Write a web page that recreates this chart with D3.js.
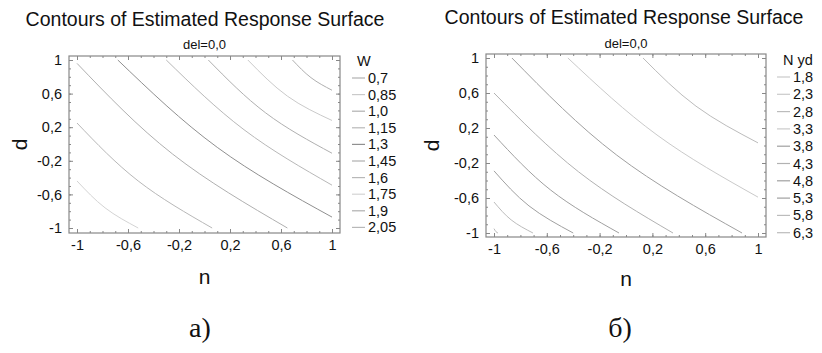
<!DOCTYPE html>
<html>
<head>
<meta charset="utf-8">
<script src="https://cdn.jsdelivr.net/npm/d3@7"></script>
<style>
  body { margin: 0; background: #fff; }
  svg { display: block; }
</style>
</head>
<body>
<svg width="822" height="353"></svg>
<script>
// axis ticks shared by both panels
const majorTicks = [-1, -0.6, -0.2, 0.2, 0.6, 1];
const minorTicks = d3.range(-10, 11).map(i => i / 10);

// panel a) : W
const wLevels = ["0,7", "0,85", "1,0", "1,15", "1,3", "1,45", "1,6", "1,75", "1,9", "2,05"];
// contour lines, [n, d] points, with the legend level index
const wCurveLevels = [7, 6, 5, 4, 3, 2, 1, 0];
const wCurves = [
  [[-1, -0.44], [-0.78, -0.76], [-0.52, -1]],
  [[-1, 0.25], [-0.52, -0.44], [0.06, -1]],
  [[-1, 0.96], [-0.25, -0.12], [0.65, -1]],
  [[-0.68, 1], [0.10, -0.04], [1, -0.87]],
  [[-0.30, 1], [0.31, 0.17], [1, -0.49]],
  [[0.03, 1], [0.48, 0.37], [1, -0.11]],
  [[0.34, 1], [0.65, 0.57], [1, 0.28]],
  [[0.69, 1], [0.835, 0.79], [1, 0.64]]
];

// panel б) : N yd
const nLevels = ["1,8", "2,3", "2,8", "3,3", "3,8", "4,3", "4,8", "5,3", "5,8", "6,3"];
const nCurveLevels = [9, 8, 7, 6, 5, 4, 3, 2];
const nCurves = [
  [[-1, -0.95], [-0.985, -0.985], [-0.97, -1]],
  [[-1, -0.646], [-0.87, -0.85], [-0.705, -1]],
  [[-1, -0.29], [-0.735, -0.69], [-0.40, -1]],
  [[-1, 0.12], [-0.57, -0.51], [-0.053, -1]],
  [[-1, 0.60], [-0.36, -0.30], [0.356, -1]],
  [[-0.864, 1], [-0.07, -0.11], [0.879, -1]],
  [[-0.44, 1], [0.235, 0.12], [1, -0.59]],
  [[0.129, 1], [0.53, 0.45], [1, 0.03]]
];

// line greys (style, kept apart from the data)
const wGreys = ["#b0b0b0", "#cacaca", "#b0b0b0", "#b8b8b8", "#909090", "#b0b0b0", "#b8b8b8", "#d4d4d4", "#b0b0b0", "#b8b8b8"];
const nGreys = ["#cacaca", "#cacaca", "#bcbcbc", "#cacaca", "#a0a0a0", "#b2b2b2", "#a0a0a0", "#a0a0a0", "#bcbcbc", "#bcbcbc"];

const svg = d3.select("svg");
const fmt = v => String(v).replace(".", ",");
const font = "'Liberation Sans', Arial, sans-serif";

function panel(cfg, curves, curveLevels, levels, greys, legendTitle) {
  const x = d3.scaleLinear().domain([-1, 1]).range([cfg.x0, cfg.x1]);
  const y = d3.scaleLinear().domain([-1, 1]).range([cfg.y0, cfg.y1]);
  const left = cfg.x0 - cfg.padX, right = cfg.x1 + cfg.padX;
  const top = cfg.y1 - cfg.padT, bottom = cfg.y0 + cfg.padB;

  const g = svg.append("g").attr("font-family", font);

  g.append("text")
    .attr("x", cfg.titleX).attr("y", cfg.titleY)
    .attr("text-anchor", "middle").attr("font-size", 19.5).attr("fill", "#111")
    .text("Contours of Estimated Response Surface");
  g.append("text")
    .attr("x", (left + right) / 2).attr("y", cfg.subY)
    .attr("text-anchor", "middle").attr("font-size", 13).attr("fill", "#111")
    .text("del=0,0");

  // contours
  const line = d3.line().x(d => x(d[0])).y(d => y(d[1])).curve(d3.curveNatural);
  g.append("g")
    .attr("fill", "none").attr("stroke-width", 1)
    .selectAll("path")
    .data(curves)
    .join("path")
      .attr("stroke", (d, i) => greys[curveLevels[i]])
      .attr("d", line);

  // frame with inward ticks on every side
  const axes = [
    [d3.axisBottom(x), `translate(0,${bottom})`, true],
    [d3.axisTop(x), `translate(0,${top})`, false],
    [d3.axisLeft(y), `translate(${left},0)`, true],
    [d3.axisRight(y), `translate(${right},0)`, false]
  ];
  axes.forEach(([ax, tr, labelled]) => {
    const minor = g.append("g").attr("transform", tr)
      .call(ax.tickValues(minorTicks).tickSize(-2).tickFormat(""));
    minor.select(".domain").remove();
    minor.selectAll("line").attr("stroke", "#888");
    const major = g.append("g").attr("transform", tr)
      .call(ax.tickValues(majorTicks).tickSize(-4).tickPadding(labelled ? 7 : 0)
        .tickFormat(labelled ? fmt : ""));
    major.select(".domain").remove();
    major.selectAll("line").attr("stroke", "#888");
    major.selectAll("text").attr("font-size", 14.5).attr("fill", "#111").attr("font-family", font);
  });
  g.append("rect")
    .attr("x", left).attr("y", top)
    .attr("width", right - left).attr("height", bottom - top)
    .attr("fill", "none").attr("stroke", "#888").attr("stroke-width", 1.2);

  // axis titles
  g.append("text")
    .attr("x", (left + right) / 2).attr("y", cfg.nY)
    .attr("text-anchor", "middle").attr("font-size", 21).attr("fill", "#111")
    .text("n");
  g.append("text")
    .attr("transform", `translate(${cfg.dX},${(top + bottom) / 2}) rotate(-90)`)
    .attr("text-anchor", "middle").attr("font-size", 21).attr("fill", "#111")
    .text("d");

  // legend
  const lg = g.append("g").attr("transform", `translate(${cfg.legX},0)`);
  lg.append("text")
    .attr("x", cfg.legTitleDx).attr("y", cfg.legTop - cfg.legStep + 5)
    .attr("font-size", 14.5).attr("fill", "#111")
    .text(legendTitle);
  const item = lg.selectAll("g.item")
    .data(levels)
    .join("g")
      .attr("class", "item")
      .attr("transform", (d, i) => `translate(0,${cfg.legTop + i * cfg.legStep})`);
  item.append("line")
    .attr("x1", 0).attr("x2", 13)
    .attr("stroke", (d, i) => greys[i]).attr("stroke-width", 1.2);
  item.append("text")
    .attr("x", 16).attr("dy", "0.35em")
    .attr("font-size", 14.5).attr("fill", "#111")
    .text(d => d);

  // panel caption
  svg.append("text")
    .attr("x", cfg.capX).attr("y", 337)
    .attr("text-anchor", "middle")
    .attr("font-family", "'Liberation Serif', 'DejaVu Serif', serif")
    .attr("font-size", 28).attr("fill", "#111")
    .text(cfg.caption);
}

panel({x0: 77, x1: 332, y0: 228, y1: 60, padX: 8, padT: 4, padB: 5,
       titleX: 205, titleY: 26, subY: 49, nY: 284, dX: 27,
       legX: 352, legTop: 78, legStep: 16.6, legTitleDx: 5, capX: 200, caption: "а)"},
      wCurves, wCurveLevels, wLevels, wGreys, "W");

panel({x0: 494, x1: 758, y0: 233, y1: 58, padX: 8, padT: 4, padB: 4,
       titleX: 624, titleY: 24, subY: 48, nY: 286, dX: 439,
       legX: 777, legTop: 77, legStep: 17.3, legTitleDx: 6, capX: 620, caption: "б)"},
      nCurves, nCurveLevels, nLevels, nGreys, "N yd");
</script>
</body>
</html>
